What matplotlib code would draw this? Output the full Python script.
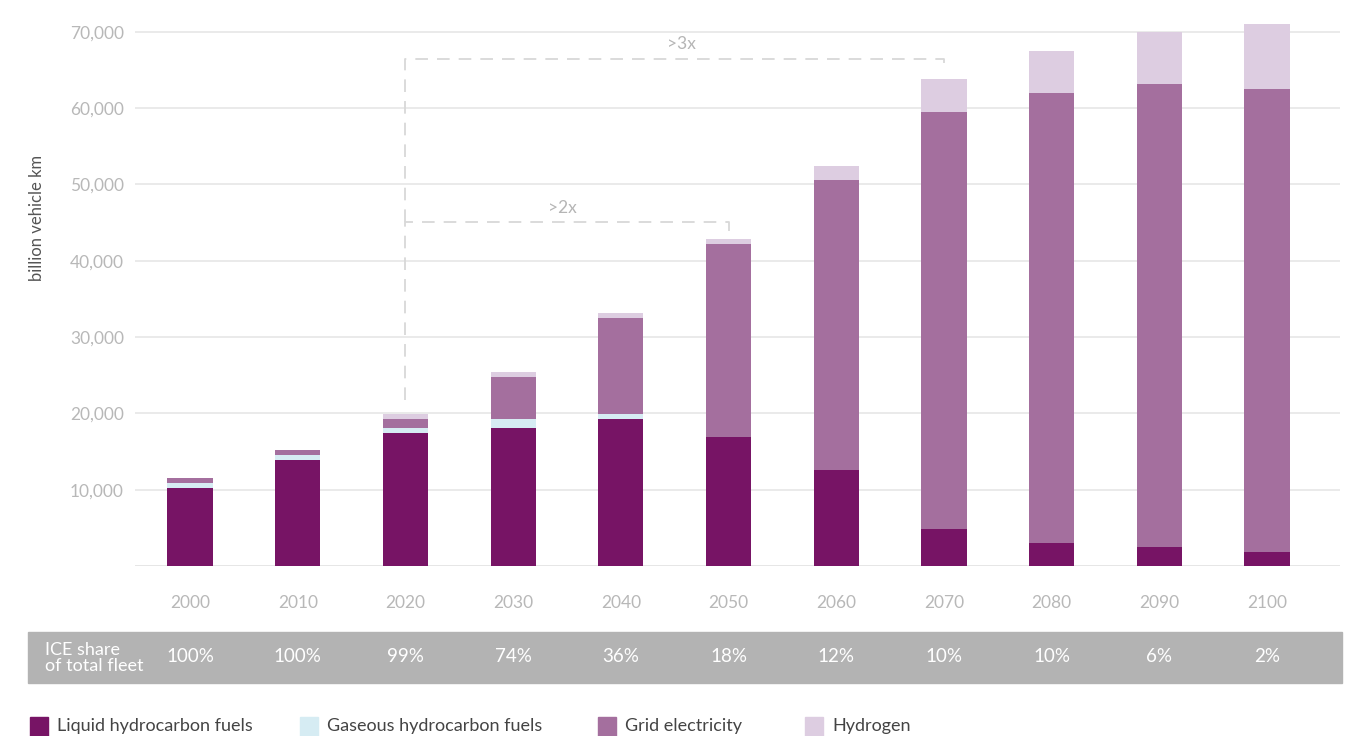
import matplotlib
matplotlib.use('Agg')
import matplotlib.pyplot as plt
import matplotlib.transforms as mtransforms
from matplotlib.patches import Rectangle
import numpy as np

plt.rcParams['font.family'] = ['Lato', 'DejaVu Sans']

# 数据：十年一档，单位 billion vehicle km
years = ['2000', '2010', '2020', '2030', '2040', '2050',
         '2060', '2070', '2080', '2090', '2100']
liquid = [10230, 13890, 17470, 18130, 19270, 16950, 12580, 4890, 3050, 2530, 1830]
gaseous = [650, 660, 620, 1140, 690, 0, 0, 0, 0, 0, 0]
grid = [650, 650, 1210, 5500, 12540, 25250, 38010, 54610, 58950, 60640, 60690]
hydrogen = [0, 0, 660, 690, 660, 660, 1870, 4330, 5500, 6730, 8510]
ice_share = ['100%', '100%', '99%', '74%', '36%', '18%', '12%', '10%', '10%', '6%', '2%']

series = [
    ('Liquid hydrocarbon fuels', liquid, '#771465'),
    ('Gaseous hydrocarbon fuels', gaseous, '#d6ecf3'),
    ('Grid electricity', grid, '#a46f9e'),
    ('Hydrogen', hydrogen, '#ddcde1'),
]

W, H = 1348, 736
fig = plt.figure(figsize=(W / 100, H / 100), dpi=100)
ax = fig.add_axes([135 / W, 1 - 566 / H, (1340 - 135) / W, (566 - 5) / H])

x = np.arange(len(years))
bottom = np.zeros(len(years))
for name, vals, color in series:
    vals = np.array(vals, dtype=float)
    ax.bar(x, vals, 0.42, bottom=bottom, color=color, label=name, zorder=3)
    bottom += vals
totals = bottom

ax.set_xlim(-0.511, 10.678)
ax.set_ylim(0, 73500)
ax.set_yticks([10000, 20000, 30000, 40000, 50000, 60000, 70000])
ax.set_yticklabels(['{:,}'.format(v) for v in ax.get_yticks().astype(int)])
ax.set_xticks(x)
ax.set_xticklabels(years)
ax.tick_params(length=0, labelsize=12.5, labelcolor='#b8b8b8')
ax.tick_params(axis='x', pad=21)
ax.tick_params(axis='y', pad=8)
ax.grid(axis='y', color='#e6e6e6', lw=1.2, zorder=0)
ax.axhline(0, color='#e3e3e3', lw=2, zorder=1)
for s in ax.spines.values():
    s.set_visible(False)
ax.set_ylabel('billion vehicle km', fontsize=12, color='#555555')
ax.yaxis.set_label_coords(-0.075, 0.62)

# 增长倍数的虚线括号
dash = dict(color='#d8d8d8', lw=1.3, dashes=(7, 5), zorder=2)
ax.plot([2, 2, 5, 5], [totals[2] + 1800, totals[5] + 2250, totals[5] + 2250, totals[5] + 1000], **dash)
ax.plot([2, 2, 7, 7], [totals[5] + 2250, totals[7] + 2600, totals[7] + 2600, totals[7] + 1350], **dash)
ax.text(3.46, totals[5] + 3050, '>2x', ha='center', va='bottom', fontsize=12.5, color='#b5b5b5')
ax.text(4.56, totals[7] + 3500, '>3x', ha='center', va='bottom', fontsize=12.5, color='#b5b5b5')

# ICE 占比灰色条
fig.patches.append(Rectangle((28 / W, 1 - 683 / H), (1342 - 28) / W, 51 / H,
                             transform=fig.transFigure, color='#b3b3b3', zorder=0))
fig.text(45 / W, 1 - 658 / H, 'ICE share\nof total fleet', ha='left', va='center',
         fontsize=13, color='white', linespacing=1.05)
trans = mtransforms.blended_transform_factory(ax.transData, fig.transFigure)
for xi, s in zip(x, ice_share):
    fig.text(xi, 1 - 657 / H, s, transform=trans, ha='center', va='center',
             fontsize=13.5, color='white')

# 图例
legend_x = [30, 300, 598, 805]
for lx, (name, vals, color) in zip(legend_x, series):
    fig.patches.append(Rectangle((lx / W, 1 - 736 / H), 18 / W, 19 / H,
                                 transform=fig.transFigure, color=color))
    fig.text((lx + 27) / W, 1 - 726 / H, name, ha='left', va='center',
             fontsize=13, color='#444444')

fig.savefig('out.png', dpi=100)
